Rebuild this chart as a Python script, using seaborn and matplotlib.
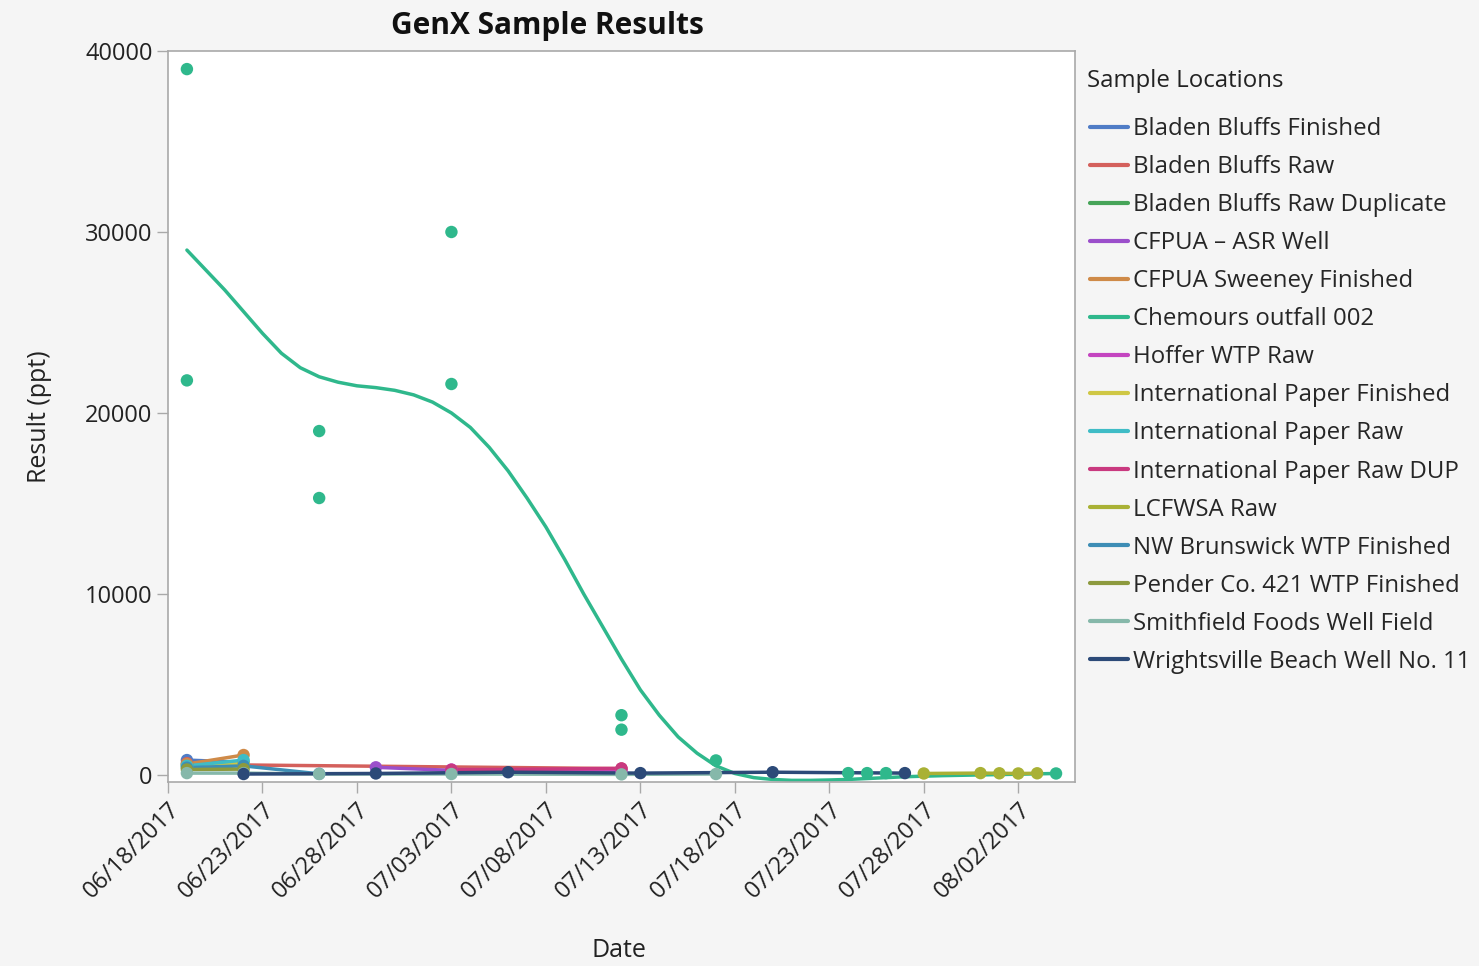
import matplotlib
matplotlib.use("Agg")
import matplotlib.pyplot as plt
import matplotlib.transforms as mtransforms
from matplotlib.lines import Line2D
import seaborn as sns
import pandas as pd

# ---------------- data ----------------
locations = [
    "Bladen Bluffs Finished", "Bladen Bluffs Raw", "Bladen Bluffs Raw Duplicate",
    "CFPUA \u2013 ASR Well", "CFPUA Sweeney Finished", "Chemours outfall 002",
    "Hoffer WTP Raw", "International Paper Finished", "International Paper Raw",
    "International Paper Raw DUP", "LCFWSA Raw", "NW Brunswick WTP Finished",
    "Pender Co. 421 WTP Finished", "Smithfield Foods Well Field",
    "Wrightsville Beach Well No. 11",
]
colors = [
    "#4f7cc6", "#d4605c", "#46a458", "#9b4fcb", "#cf8a48", "#2fb88c",
    "#c445c0", "#cfc744", "#3fbcc6", "#c9397f", "#a9b135", "#3d8db5",
    "#8d9a3e", "#86b8aa", "#2c4a78",
]

# sample results (ppt) per location
bb_fin_dates = ["2017-06-19", "2017-06-22"]
bb_fin_vals = [820, 700]
bb_raw_dates = ["2017-06-19", "2017-06-22", "2017-07-12"]
bb_raw_vals = [650, 550, 350]
bb_dup_dates = ["2017-06-19", "2017-06-22"]
bb_dup_vals = [560, 620]
asr_dates = ["2017-06-29", "2017-07-03"]
asr_vals = [420, 250]
sweeney_dates = ["2017-06-19", "2017-06-22"]
sweeney_vals = [600, 1100]
chem_dates = ["2017-06-19", "2017-06-19", "2017-06-26", "2017-06-26", "2017-07-03",
              "2017-07-03", "2017-07-12", "2017-07-12", "2017-07-17", "2017-07-24",
              "2017-07-25", "2017-07-26", "2017-08-04"]
chem_vals = [39000, 21800, 19000, 15300, 30000, 21600, 3300, 2500, 800, 100,
             100, 100, 80]
hoffer_dates = ["2017-07-03", "2017-07-12"]
hoffer_vals = [300, 250]
ipf_dates = ["2017-06-19", "2017-06-22"]
ipf_vals = [450, 650]
ipr_dates = ["2017-06-19", "2017-06-22"]
ipr_vals = [500, 820]
ipdup_dates = ["2017-07-03", "2017-07-12"]
ipdup_vals = [280, 360]
lcfwsa_dates = ["2017-07-28", "2017-07-31", "2017-08-01", "2017-08-02", "2017-08-03"]
lcfwsa_vals = [80, 100, 90, 80, 90]
nwb_dates = ["2017-06-19", "2017-06-22", "2017-06-26"]
nwb_vals = [400, 500, 60]
pender_dates = ["2017-06-19", "2017-06-22"]
pender_vals = [300, 320]
smith_dates = ["2017-06-19", "2017-06-22", "2017-06-26", "2017-07-03", "2017-07-12",
               "2017-07-17"]
smith_vals = [100, 100, 50, 50, 30, 50]
wb_dates = ["2017-06-22", "2017-06-29", "2017-07-06", "2017-07-13", "2017-07-20", "2017-07-27"]
wb_vals = [50, 80, 150, 100, 150, 100]

# smoother curve for Chemours outfall 002 (one per day)
chem_curve_start = "2017-06-19"
chem_curve_vals = [29000, 27900, 26800, 25600, 24400, 23300, 22500, 22000, 21700, 21500,
                   21400, 21250, 21000, 20600, 20000, 19200, 18100, 16800, 15300, 13700,
                   11900, 10000, 8200, 6400, 4700, 3300, 2100, 1200, 500, 80,
                   -150, -250, -300, -300, -280, -250, -200, -150, -100, -70,
                   -40, -20, 0, 20, 40, 60, 80]

x_tick_labels = ["06/18/2017", "06/23/2017", "06/28/2017", "07/03/2017", "07/08/2017",
                 "07/13/2017", "07/18/2017", "07/23/2017", "07/28/2017", "08/02/2017"]
y_ticks = [0, 10000, 20000, 30000, 40000]

series = {
    locations[0]: (bb_fin_dates, bb_fin_vals),
    locations[1]: (bb_raw_dates, bb_raw_vals),
    locations[2]: (bb_dup_dates, bb_dup_vals),
    locations[3]: (asr_dates, asr_vals),
    locations[4]: (sweeney_dates, sweeney_vals),
    locations[5]: (chem_dates, chem_vals),
    locations[6]: (hoffer_dates, hoffer_vals),
    locations[7]: (ipf_dates, ipf_vals),
    locations[8]: (ipr_dates, ipr_vals),
    locations[9]: (ipdup_dates, ipdup_vals),
    locations[10]: (lcfwsa_dates, lcfwsa_vals),
    locations[11]: (nwb_dates, nwb_vals),
    locations[12]: (pender_dates, pender_vals),
    locations[13]: (smith_dates, smith_vals),
    locations[14]: (wb_dates, wb_vals),
}

rows = []
for loc, (ds, vs) in series.items():
    for d, v in zip(ds, vs):
        rows.append({"Location": loc, "Date": pd.Timestamp(d), "Result": v})
pts = pd.DataFrame(rows)

chem_curve_dates = pd.date_range(chem_curve_start, periods=len(chem_curve_vals), freq="D")
line_rows = []
for loc, (ds, vs) in series.items():
    if loc == "Chemours outfall 002":
        ds, vs = chem_curve_dates, chem_curve_vals
    for d, v in zip(ds, vs):
        line_rows.append({"Location": loc, "Date": pd.Timestamp(d), "Result": v})
lines = pd.DataFrame(line_rows)

palette = dict(zip(locations, colors))

# ---------------- plot ----------------
sns.set_theme(style="white")
plt.rcParams["font.family"] = ["Open Sans", "DejaVu Sans"]

fig = plt.figure(figsize=(14.79, 9.66), dpi=100, facecolor="#f5f5f5")
ax = fig.add_axes([0.1136, 0.1905, 0.6132, 0.7567])
ax.set_facecolor("white")

sns.lineplot(data=lines, x="Date", y="Result", hue="Location", hue_order=locations,
             palette=palette, estimator=None, errorbar=None, sort=True,
             linewidth=2.5, ax=ax, legend=False)
sns.scatterplot(data=pts, x="Date", y="Result", hue="Location", hue_order=locations,
                palette=palette, s=80, linewidth=0, ax=ax, legend=False, zorder=3)

ax.set_xlim(pd.Timestamp("2017-06-18"), pd.Timestamp("2017-08-05"))
ax.set_ylim(-390, 40000)
ax.set_yticks(y_ticks)
ax.set_yticklabels([str(v) for v in y_ticks])
ax.set_xticks(pd.to_datetime(x_tick_labels, format="%m/%d/%Y"))
ax.set_xticklabels(x_tick_labels, rotation=45, ha="right", rotation_mode="anchor")
offset = mtransforms.ScaledTranslation(11 / 100, -6 / 100, fig.dpi_scale_trans)
for lab in ax.get_xticklabels():
    lab.set_transform(lab.get_transform() + offset)

for sp in ax.spines.values():
    sp.set_color("#a9a9a9")
    sp.set_linewidth(1.2)
ax.tick_params(axis="both", which="both", length=8, width=1, color="#a9a9a9",
               labelsize=17, labelcolor="#222222", bottom=True, left=True, pad=3)

ax.set_xlabel("Date", fontsize=18, color="#222222")
ax.set_ylabel("Result (ppt)", fontsize=18, color="#222222")
ax.yaxis.set_label_coords(-0.128, 0.5)
ax.xaxis.set_label_coords(0.4968, -0.213)

fig.text(547 / 1479, 1 - 26 / 966, "GenX Sample Results", fontsize=21.5,
         fontweight="bold", color="#111111", ha="center", va="center")
fig.text(1087 / 1479, 1 - 81 / 966, "Sample Locations", fontsize=17.3,
         color="#222222", ha="left", va="center")

handles = [Line2D([0], [0], color=palette[l], lw=3) for l in locations]
leg = fig.legend(handles, locations, loc="upper left",
                 bbox_to_anchor=(1090 / 1479, 1 - 117 / 966), frameon=False,
                 fontsize=17.3, handlelength=1.6, handletextpad=0.2,
                 labelspacing=0.585, borderaxespad=0, borderpad=0)

fig.savefig("out.png", dpi=100, facecolor=fig.get_facecolor())
